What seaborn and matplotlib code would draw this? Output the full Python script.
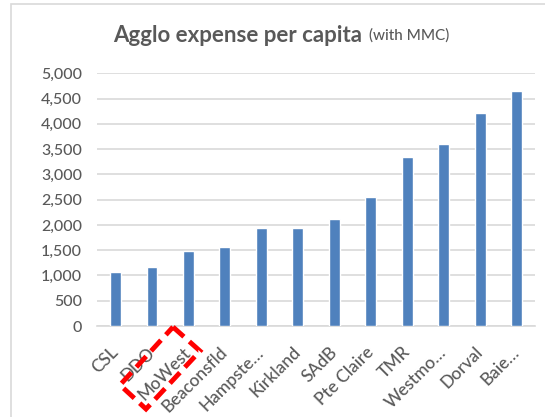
import pandas as pd
import seaborn as sns
import matplotlib.pyplot as plt
from matplotlib.patches import Polygon, Rectangle
from matplotlib.ticker import FuncFormatter

towns = ["CSL", "DDO", "MoWest", "Beaconsfld", "Hampste\u2026", "Kirkland",
         "SAdB", "Pte Claire", "TMR", "Westmo\u2026", "Dorval", "Baie\u2026"]
expense = [1070, 1160, 1480, 1570, 1945, 1945, 2125, 2555, 3340, 3595, 4215, 4655]
y_ticks = list(range(0, 5001, 500))

df = pd.DataFrame({"town": towns, "expense": expense})

sns.set_theme(style="white")
plt.rcParams['font.family'] = ['Lato', 'DejaVu Sans']

grey = "#595959"
fig = plt.figure(figsize=(5.45, 4.17), dpi=100)
ax = fig.add_axes([97.3 / 545, 1 - 326 / 417, (535 - 97.3) / 545, (326 - 73.3) / 417])

sns.barplot(data=df, x="town", y="expense", color="#4F81BD", saturation=1,
            width=0.3, ax=ax, zorder=3)

ax.set_ylim(0, 5000)
ax.set_yticks(y_ticks)
ax.yaxis.set_major_formatter(FuncFormatter(lambda v, p: f"{int(v):,}"))
ax.grid(axis="y", color="#D9D9D9", linewidth=1.2, zorder=0)
ax.set_axisbelow(True)
for s in ["top", "right", "left"]:
    ax.spines[s].set_visible(False)
ax.spines["bottom"].set_color("#D9D9D9")
ax.spines["bottom"].set_linewidth(1.2)
ax.set_xlabel("")
ax.set_ylabel("")
ax.tick_params(axis="y", length=0, pad=11, labelsize=11.5, labelcolor=grey)
ax.tick_params(axis="x", length=0, pad=17, labelsize=12.5, labelcolor=grey)
for lab in ax.get_yticklabels():
    lab.set_fontweight("medium")
for lab in ax.get_xticklabels():
    lab.set_fontweight("medium")
    lab.set_rotation(45)
    lab.set_ha("right")
    lab.set_va("center")
    lab.set_rotation_mode("anchor")

# title: bold part + smaller normal part
t1 = fig.text(113 / 545, 1 - 35 / 417, "Agglo expense per capita", ha="left", va="center",
              fontsize=16, fontweight="bold", color=grey)
fig.canvas.draw()
bb = t1.get_window_extent()
fig.text((bb.x1 + 7) / 545, 1 - 35 / 417, "(with MMC)", ha="left", va="center",
         fontsize=11, fontweight="medium", color=grey)

# chart frame
fig.patches.append(Rectangle((11 / 545, -0.1), 1.2, 1 - 4 / 417 + 0.1,
                             transform=fig.transFigure, fill=False,
                             edgecolor="#D9D9D9", linewidth=1.2))

# red dashed highlight around MoWest
corners = [(173, 327), (200, 351), (146, 409), (120, 385)]
pts = [(x / 545, 1 - y / 417) for x, y in corners]
fig.patches.append(Polygon(pts, closed=True, transform=fig.transFigure,
                           fill=False, edgecolor="red", linewidth=3.5,
                           linestyle=(0, (3, 1.5))))

plt.savefig("out.png", dpi=100)
